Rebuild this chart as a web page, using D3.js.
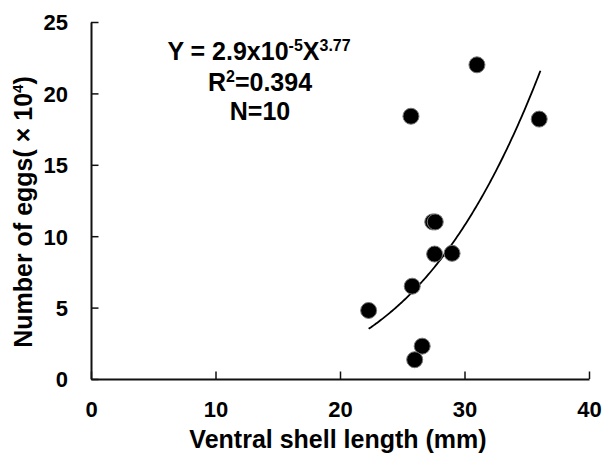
<!DOCTYPE html>
<html>
<head>
<meta charset="utf-8">
<script src="https://cdn.jsdelivr.net/npm/d3@7"></script>
<style>
  html, body { margin: 0; padding: 0; background: #fff; }
  svg { display: block; }
  text { font-family: "Liberation Sans", Arial, sans-serif; font-weight: bold; fill: #000; }
</style>
</head>
<body>
<svg id="chart" width="602" height="458"></svg>
<script>
// ---- data ----
const shellLength = [25.7, 31.0, 36.0, 27.45, 27.65, 27.6, 29.0, 25.8, 22.3, 26.6, 26.0];
const eggCount    = [18.4, 22.0, 18.2, 11.0, 11.0, 8.75, 8.8, 6.5, 4.8, 2.3, 1.35];
const xTicks = [0, 10, 20, 30, 40];
const yTicks = [0, 5, 10, 15, 20, 25];
// fitted power model shown on the chart: Y = a * X^b
const fitA = 2.9e-5;
const fitB = 3.77;
const fitRange = [22.3, 36.1];
const eqLines = ["Y = 2.9x10", "R", "N=10"];

const svg = d3.select("#chart");
const x = d3.scaleLinear().domain([0, 40]).range([91, 589]);
const y = d3.scaleLinear().domain([0, 25]).range([379, 22]);

// axes
const xAxis = d3.axisBottom(x).tickValues(xTicks).tickSizeInner(-7.5).tickSizeOuter(0).tickPadding(22);
const yAxis = d3.axisLeft(y).tickValues(yTicks).tickSizeInner(-7.5).tickSizeOuter(0).tickPadding(23);

const gx = svg.append("g").attr("transform", `translate(0,${y(0)})`).call(xAxis);
const gy = svg.append("g").attr("transform", `translate(${x(0)},0)`).call(yAxis);
[gx, gy].forEach(g => {
  g.select(".domain").attr("stroke", "#111").attr("stroke-width", 2);
  g.selectAll(".tick line").attr("stroke", "#111").attr("stroke-width", 1.5);
  g.selectAll(".tick text").style("font-size", "22px").style("font-family", "'Liberation Sans', Arial, sans-serif").style("font-weight", "bold").attr("fill", "#000");
});
gy.selectAll(".tick text").attr("dy", "0.36em");

// axis titles
svg.append("text")
  .attr("x", x(20) - 2).attr("y", 448)
  .attr("text-anchor", "middle")
  .style("font-size", "25px")
  .text("Ventral shell length (mm)");

const yt = svg.append("text")
  .attr("transform", "translate(32,212) rotate(-90)")
  .attr("text-anchor", "middle")
  .style("font-size", "25px");
yt.append("tspan").text("Number of eggs( × 10");
yt.append("tspan").attr("dy", -9).style("font-size", "15px").text("4");
yt.append("tspan").attr("dy", 9).text(")");

// fitted curve
const curvePts = d3.range(fitRange[0], fitRange[1] + 0.001, 0.1).map(v => [v, fitA * Math.pow(v, fitB)]);
svg.append("path")
  .datum(curvePts)
  .attr("fill", "none")
  .attr("stroke", "#000")
  .attr("stroke-width", 1.8)
  .attr("d", d3.line().x(d => x(d[0])).y(d => y(d[1])));

// points
svg.append("g").selectAll("circle")
  .data(shellLength.map((v, i) => [v, eggCount[i]]))
  .join("circle")
  .attr("cx", d => x(d[0]))
  .attr("cy", d => y(d[1]))
  .attr("r", 8)
  .attr("fill", "#000")
  .attr("stroke", "#777")
  .attr("stroke-width", 1);

// equation text
const eq = svg.append("g").attr("text-anchor", "middle");
const l1 = eq.append("text").attr("x", 259).attr("y", 60).style("font-size", "25px");
l1.append("tspan").text(eqLines[0]);
l1.append("tspan").attr("dy", -9).style("font-size", "16px").text("-5");
l1.append("tspan").attr("dy", 9).text("X");
l1.append("tspan").attr("dy", -9).style("font-size", "16px").text("3.77");

const l2 = eq.append("text").attr("x", 260).attr("y", 91).style("font-size", "25px");
l2.append("tspan").text(eqLines[1]);
l2.append("tspan").attr("dy", -9).style("font-size", "16px").text("2");
l2.append("tspan").attr("dy", 9).text("=0.394");

eq.append("text").attr("x", 260).attr("y", 120).style("font-size", "25px").text(eqLines[2]);
</script>
</body>
</html>
